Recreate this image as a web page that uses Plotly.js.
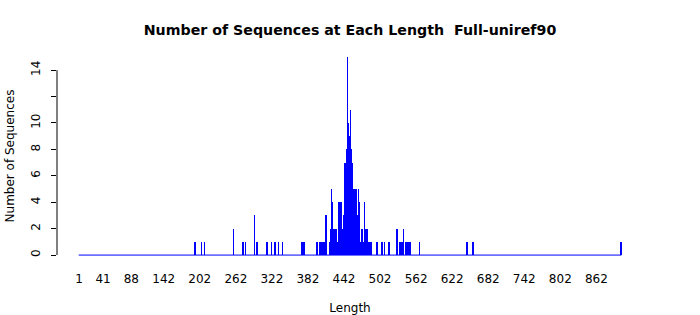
<!DOCTYPE html>
<html>
<head>
<meta charset="utf-8">
<script src="https://cdn.plot.ly/plotly-3.0.1.min.js"></script>
<style>html,body{margin:0;padding:0;background:#fff;}#chart{width:700px;height:315px;}</style>
</head>
<body>
<div id="chart"></div>
<script>
// Sequence lengths (x) and number of sequences at each length (y)
const lengths = [194,205,210,258,274,278,293,296,298,313,314,321,327,333,340,372,374,376,397,
  402,403,405,406,408,410,412,418,419,420,421,422,423,424,425,426,427,428,429,430,431,432,
  433,434,435,436,437,438,439,440,441,442,443,444,445,446,447,448,449,450,451,452,453,454,
  455,456,457,458,459,460,461,462,463,464,465,466,467,468,469,470,471,472,473,474,476,477,
  478,479,480,481,483,484,486,488,497,504,506,509,516,518,530,534,535,537,539,541,545,547,
  550,552,568,647,657,903];
const counts = [1,1,1,2,1,1,3,1,1,1,1,1,1,1,1,1,1,1,1,
  1,1,1,1,1,1,3,1,1,2,5,2,4,2,2,1,2,2,2,1,1,1,
  4,4,2,4,4,2,2,2,1,3,6,7,5,8,6,15,10,7,9,6,11,8,
  5,7,5,5,3,5,4,4,5,3,2,5,4,3,1,1,1,2,1,1,4,1,
  2,2,2,1,1,1,1,1,1,1,1,1,1,1,2,1,1,1,1,2,1,1,
  1,1,1,1,1,1];
const xTickVals = [1,41,88,142,202,262,322,382,442,502,562,622,682,742,802,862];
const xTickText = ["1","41","88","142","202","262","322","382","442","502","562","622","682","742","802","862"];
const yTickVals = [0,2,4,6,8,10,12,14];
const yTickText = ["0","2","4","6","8","10","","14"];
const titleText = "Number of Sequences at Each Length \u00A0Full-uniref90";

const minL = 1, maxL = Math.max(...lengths);
const pxPerUnit = (621 - 79) / (maxL - minL);
const padUnits = 22 / pxPerUnit;

const trace = {
  type: 'bar', x: lengths, y: counts, width: 0.8,
  marker: {color: '#0000FF', line: {width: 0}},
  hoverinfo: 'x+y'
};

const layout = {
  width: 700, height: 315,
  margin: {l: 57, r: 57, t: 49, b: 52},
  paper_bgcolor: '#ffffff', plot_bgcolor: '#ffffff',
  font: {family: 'DejaVu Sans', size: 12, color: '#000'},
  showlegend: false,
  bargap: 0,
  title: {text: titleText, font: {family: 'DejaVu Sans', size: 14.2, weight: 'bold', color: '#000'},
          x: 0.5, xref: 'paper', xanchor: 'center', y: 1 - 30/315, yref: 'container', yanchor: 'middle'},
  xaxis: {
    range: [minL - padUnits, maxL + padUnits],
    tickmode: 'array', tickvals: xTickVals, ticktext: xTickText,
    ticks: 'outside', ticklen: 5, tickcolor: 'rgba(0,0,0,0)',
    showline: false, showgrid: false, zeroline: false,
    tickfont: {size: 12},
    title: {text: 'Length', font: {size: 12}, standoff: 20},
    automargin: false, fixedrange: true
  },
  yaxis: {
    range: [-0.6, 15.6],
    tickmode: 'array', tickvals: yTickVals, ticktext: yTickText,
    ticks: 'outside', ticklen: 5, tickcolor: '#000', tickwidth: 1,
    tickangle: -90, ticklabelstandoff: 6,
    showline: false, showgrid: false, zeroline: false,
    tickfont: {size: 12},
    title: {text: 'Number of Sequences', font: {size: 12}, standoff: 12},
    automargin: false, fixedrange: true
  },
  shapes: [
    {type: 'line', xref: 'paper', yref: 'y', x0: 0, x1: 0, y0: yTickVals[0], y1: yTickVals[yTickVals.length-1],
     line: {color: '#000', width: 1}},
    {type: 'line', xref: 'x', yref: 'y', x0: minL - 0.5, x1: maxL + 0.5, y0: 0, y1: 0,
     line: {color: '#0000FF', width: 1}, layer: 'above'}
  ]
};

Plotly.newPlot('chart', [trace], layout, {displayModeBar: false});
</script>
</body>
</html>
